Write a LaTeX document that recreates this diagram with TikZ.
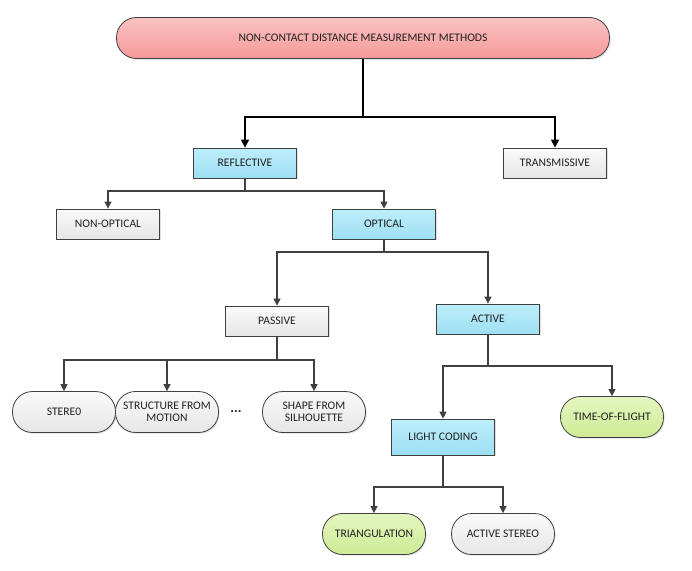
\documentclass[tikz,border=0pt]{standalone}
\usepackage{fontspec}
\setmainfont{Carlito}
\usetikzlibrary{arrows.meta,shadows}
\definecolor{rootpinkT}{HTML}{FBC2C2}
\definecolor{rootpinkB}{HTML}{F59A9A}
\definecolor{blueT}{HTML}{BDEEFB}
\definecolor{blueB}{HTML}{9EDFF3}
\definecolor{greenT}{HTML}{E4F6C0}
\definecolor{greenB}{HTML}{CDEB95}
\definecolor{greyT}{HTML}{FAFAFA}
\definecolor{greyB}{HTML}{E6E6E6}
\definecolor{edgecol}{HTML}{404040}
\definecolor{txtcol}{HTML}{202020}
\begin{document}
\begin{tikzpicture}[x=1pt,y=-1pt,
  base/.style={draw=edgecol, line width=0.8pt, align=center, text=txtcol,
    font=\fontsize{11.6}{12.5}\selectfont, inner sep=2pt,
    drop shadow={shadow xshift=1.2pt, shadow yshift=-1.2pt, opacity=0.25}},
  sq/.style={base, minimum width=103pt, minimum height=30pt},
  pill/.style={base, minimum width=103pt, minimum height=41pt, rounded corners=20pt},
  bluef/.style={top color=blueT, bottom color=blueB},
  greenf/.style={top color=greenT, bottom color=greenB},
  greyf/.style={top color=greyT, bottom color=greyB},
  conn/.style={draw=edgecol, line width=1.2pt, -{Triangle[length=7pt,width=7pt]}},
  mainconn/.style={draw=black, line width=1.6pt, -{Triangle[length=8pt,width=8pt]}}
]
\useasboundingbox (0,0) rectangle (692,570);

\node[base, minimum width=493pt, minimum height=41pt, rounded corners=20pt,
  top color=rootpinkT, bottom color=rootpinkB] (root) at (363,38)
  {NON-CONTACT DISTANCE MEASUREMENT METHODS};

\node[sq, bluef] (refl) at (245,163) {REFLECTIVE};
\node[sq, greyf] (trans) at (555,163) {TRANSMISSIVE};
\node[sq, greyf] (nonopt) at (108,224) {NON-OPTICAL};
\node[sq, bluef] (opt) at (384,224) {OPTICAL};
\node[sq, greyf] (pass) at (277,321) {PASSIVE};
\node[sq, bluef] (act) at (488,319) {ACTIVE};
\node[pill, greyf] (stereo) at (64,412) {STERE0};
\node[pill, greyf] (sfm) at (167,412) {STRUCTURE FROM\\MOTION};
\node[font=\fontsize{14}{14}\selectfont\bfseries, text=txtcol] (dots) at (236,412) {...};
\node[pill, greyf] (sfs) at (314,412) {SHAPE FROM\\SILHOUETTE};
\node[sq, bluef, minimum height=36pt] (lc) at (443,437) {LIGHT CODING};
\node[pill, greenf] (tof) at (612,417) {TIME-OF-FLIGHT};
\node[pill, greenf] (tri) at (374,534) {TRIANGULATION};
\node[pill, greyf] (astereo) at (503,534) {ACTIVE STEREO};

\coordinate (j1) at (363,117);
\draw[mainconn] (root.south) -- (j1) -| (refl.north);
\draw[mainconn] (j1) -| (trans.north);

\coordinate (j2) at (245,191);
\draw[conn] (refl.south) -- (j2) -| (nonopt.north);
\draw[conn] (j2) -| (opt.north);

\coordinate (j3) at (384,252);
\draw[conn] (opt.south) -- (j3) -| (pass.north);
\draw[conn] (j3) -| (act.north);

\coordinate (j4) at (277,360);
\draw[conn] (pass.south) -- (j4) -| (stereo.north);
\draw[conn] (j4) -| (sfm.north);
\draw[conn] (j4) -| (sfs.north);

\coordinate (j5) at (488,366);
\draw[conn] (act.south) -- (j5) -| (lc.north);
\draw[conn] (j5) -| (tof.north);

\coordinate (j6) at (443,487);
\draw[conn] (lc.south) -- (j6) -| (tri.north);
\draw[conn] (j6) -| (astereo.north);
\end{tikzpicture}
\end{document}
